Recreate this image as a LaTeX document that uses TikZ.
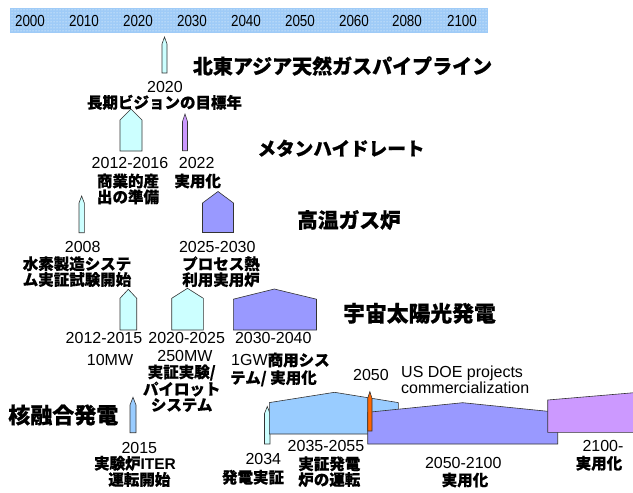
\documentclass[tikz,border=0pt]{standalone}
\usepackage{fontspec}
\setmainfont{Liberation Sans}
\newfontfamily\jp{Noto Sans CJK JP}[BoldFeatures={FakeBold=0.6}]
\usetikzlibrary{patterns}
\definecolor{cyanL}{HTML}{CCFFFF}
\definecolor{blueL}{HTML}{99CCFF}
\definecolor{bluP}{HTML}{9999FF}
\definecolor{vio}{HTML}{CC99FF}
\definecolor{org}{HTML}{FF6600}
\definecolor{barc}{HTML}{9FCBF7}
\definecolor{edgec}{HTML}{333333}
% pencil: colour, x1, x2, tip y, shoulder y, bottom y
\newcommand\pencilshape[6]{\draw[shp,fill=#1] (#2,#6) -- (#2,#5) -- ({(#2+#3)/2},#4) -- (#3,#5) -- (#3,#6) -- cycle;}
% pentagon: colour, x1, x2, apex x, apex y, shoulder y, bottom y
\newcommand\pentshape[7]{\draw[shp,fill=#1] (#2,#7) -- (#2,#6) -- (#4,#5) -- (#3,#6) -- (#3,#7) -- cycle;}
\begin{document}
\begin{tikzpicture}[x=1pt,y=-1pt,
  shp/.style={draw=edgec,line width=0.6pt,line join=miter},
  yr/.style={inner sep=0pt,font=\fontsize{16}{16}\selectfont},
  lb/.style={inner sep=0pt,align=center,font=\jp\bfseries\fontsize{15.5}{15.8}\selectfont},
  ttl/.style={inner sep=0pt,font=\jp\bfseries\fontsize{#1}{#1}\selectfont}]
\useasboundingbox (0,0) rectangle (633,493);
\clip (0,0) rectangle (633,493);
% top bar
\fill[barc] (10,8) rectangle (488,33);
\fill[pattern=dots,pattern color=white] (10,8) rectangle (488,33);
\foreach \xx/\t in {30/2000,84/2010,138/2020,192/2030,246/2040,300/2050,354/2060,407/2080,462/2100}
  \node[yr] (bar\t) at (\xx,21) {\scalebox{0.84}[1]{\t}};
% shapes
\pencilshape{cyanL}{162}{167}{37}{44}{73}
\pencilshape{vio}{182.5}{187.5}{114}{121.5}{150.7}
\pencilshape{cyanL}{79}{84.3}{196}{203}{232.7}
\pencilshape{blueL}{130}{136}{397.3}{405}{432.7}
\pencilshape{cyanL}{264.5}{270}{406.5}{413.5}{444}
\pentshape{cyanL}{120}{142}{131}{109}{120}{151}
\pentshape{bluP}{202.5}{233.5}{218}{191.5}{203}{232.5}
\pentshape{cyanL}{120}{136.7}{128.3}{289.3}{298.3}{330}
\pentshape{cyanL}{171.7}{203.3}{187.5}{288.3}{298.3}{330}
\pentshape{bluP}{233.3}{316.5}{274.3}{289}{299.2}{330}
\pentshape{blueL}{269.3}{398.3}{334.5}{392.3}{402.6}{434}
\pentshape{bluP}{367.7}{557.7}{462.7}{402.7}{412.3}{444}
\draw[shp,fill=vio] (547.7,432.3) -- (547.7,400) -- (640,392.2) -- (640,432.3) -- cycle;
\pencilshape{org}{367.7}{372}{391.7}{398.3}{431}
% titles
\node[ttl=20] (t1) at (342.5,66) {北東アジア天然ガスパイプライン};
\node[ttl=18.6] (t2) at (341,148.3) {メタンハイドレート};
\node[ttl=20.7] (t3) at (349,220) {高温ガス炉};
\node[ttl=21.8] (t4) at (419.5,313.3) {宇宙太陽光発電};
\node[ttl=22] (t5) at (63.3,415) {核融合発電};
% labels
\node[yr] (y2020) at (165,86.5) {2020};
\node[lb] (l2020) at (164.5,102.3) {長期ビジョンの目標年};
\node[yr] (y1216) at (130,163.3) {2012-2016};
\node[lb] (l1216) at (128,189) {商業的産\\出の準備};
\node[yr] (y2022) at (196.7,163.3) {2022};
\node[lb] (l2022) at (197.7,181) {実用化};
\node[yr] (y2008) at (82.7,247.3) {2008};
\node[lb] (l2008) at (77,271.7) {水素製造システ\\ム実証試験開始};
\node[yr] (y2530) at (217.3,247.3) {2025-2030};
\node[lb] (l2530) at (221,271.7) {プロセス熱\\利用実用炉};
\node[yr] (y1215) at (104,338) {2012-2015};
\node[yr] (m10) at (110,360) {10MW};
\node[yr] (y2025) at (186.7,338) {2020-2025};
\node[yr] (m250) at (185,356) {250MW};
\node[lb] (l2025) at (181.7,388.2) {実証実験/\\パイロット\\システム};
\node[yr] (y3040) at (273.3,338) {2030-2040};
\node[yr,anchor=west] (g1) at (231,360) {1GW{\jp\bfseries\fontsize{15.5}{15.5}\selectfont 商用シス}};
\node[lb,anchor=west] (g2) at (230,378.3) {テム/ 実用化};
\node[yr] (y2015) at (139.3,447.7) {2015};
\node[lb] (l2015a) at (135,463.3) {実験炉{\rmfamily\bfseries ITER}};
\node[lb] (l2015b) at (139.3,479.5) {運転開始};
\node[yr] (y2034) at (263.3,459) {2034};
\node[lb] (l2034) at (253,477.3) {発電実証};
\node[yr] (y3555) at (326,445.7) {2035-2055};
\node[lb] (l3555) at (329.3,471.7) {実証発電\\炉の運転};
\node[yr] (y2050) at (371,375) {2050};
\node[yr,anchor=west,align=left,font=\fontsize{16}{15.6}\selectfont] (doe) at (401,379.5) {US DOE projects\\commercialization};
\node[yr] (y50100) at (463.3,462.7) {2050-2100};
\node[lb] (l50100) at (465,480) {実用化};
\node[yr] (y2100) at (603,445.7) {2100-};
\node[lb] (l2100) at (599,463.3) {実用化};
\end{tikzpicture}
\end{document}
